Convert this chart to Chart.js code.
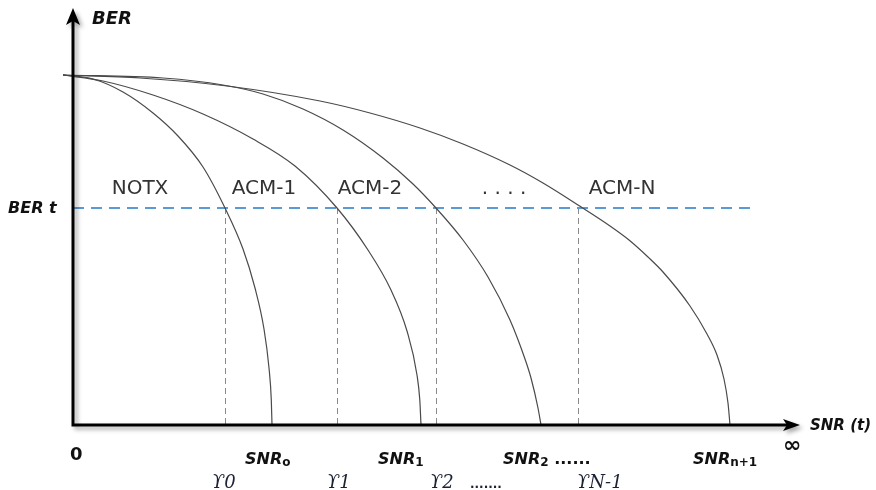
<!DOCTYPE html>
<html>
<head>
<meta charset="utf-8">
<script src="https://cdn.jsdelivr.net/npm/chart.js@4.4.1/dist/chart.umd.min.js"></script>
<style>
  html, body { margin: 0; padding: 0; background: #ffffff; }
  #wrap { width: 876px; height: 490px; position: relative; }
</style>
</head>
<body>
<div id="wrap"><canvas id="berChart" width="876" height="490"></canvas></div>
<script>
// curve points (x = SNR, y = BER, arbitrary units)
const notxX = [-10, 20, 50, 80, 105, 130, 152, 170, 182, 191, 196, 198.3, 199];
const notxY = [350, 346, 333, 312, 289, 258, 217, 176, 137, 96, 57, 25, 0];

const acm1X = [-10, 30, 80, 130, 180, 222, 264, 295, 318, 334, 344, 346.8, 348];
const acm1Y = [350, 344, 330, 311, 286, 259, 217, 175, 135, 94, 50, 25, 0];

const acm2X = [-10, 90, 150, 190, 230, 270, 310, 340, 363, 390, 415, 437, 452, 458, 465, 468];
const acm2Y = [350, 347, 340, 331, 316, 295, 267, 241, 217, 185, 148, 105, 66, 47, 17, 0];

const acmNX = [-10, 67, 154, 247, 297, 347, 390, 437, 470, 505, 537, 556, 575, 590, 617, 634, 644, 651, 655, 657];
const acmNY = [350, 347, 339, 324, 312, 297, 281, 260, 242, 220, 199, 185, 168, 153, 119, 91, 70, 46, 22, 0];

// threshold BER and the SNR where each curve meets it
const berT = 217;
const berTEnd = 679;
const thresholdX = [152, 264, 363, 505];

// region names and where they sit
const regionNames = ['NOTX', 'ACM-1', 'ACM-2', '. . . .', 'ACM-N'];
const regionX = [67, 191, 297, 431, 549];
const regionY = 239;

// labels under the x axis
const snrMain = ['SNR', 'SNR', 'SNR', 'SNR'];
const snrSub = ['o', '1', '2', 'n+1'];
const snrTail = ['', '', ' ......', ''];
const snrTickX = [172, 305, 430, 620];
const gammaLabels = ['\u03D20', '\u03D21', '\u03D22', '\u03D2N-1'];
const gammaTickX = [139, 254, 357, 504];

const xMin = -10, xMax = 724, yMin = 0, yMax = 414;

function pts(xs, ys) {
    return xs.map((v, i) => ({ x: v, y: ys[i] }));
}

const curveStyle = {
    borderColor: '#4a4a4a',
    borderWidth: 1.2,
    pointRadius: 0,
    fill: false,
    cubicInterpolationMode: 'monotone',
    clip: false
};

const decorPlugin = {
    id: 'decor',
    beforeDatasetsDraw(chart) {
        const { ctx, scales: { x, y } } = chart;
        const yT = y.getPixelForValue(berT);
        const y0 = y.getPixelForValue(0);

        ctx.save();
        // vertical threshold lines
        ctx.strokeStyle = '#8a8a8a';
        ctx.lineWidth = 1;
        ctx.setLineDash([6, 4]);
        thresholdX.forEach(v => {
            const px = Math.round(x.getPixelForValue(v)) + 0.5;
            ctx.beginPath();
            ctx.moveTo(px, yT);
            ctx.lineTo(px, y0);
            ctx.stroke();
        });
        // BER t line
        ctx.strokeStyle = '#5b9bd5';
        ctx.lineWidth = 2;
        ctx.setLineDash([11, 7]);
        ctx.beginPath();
        ctx.moveTo(x.getPixelForValue(0), yT);
        ctx.lineTo(x.getPixelForValue(berTEnd), yT);
        ctx.stroke();
        ctx.restore();
    },
    afterDraw(chart) {
        const { ctx, scales: { x, y } } = chart;
        const ox = x.getPixelForValue(0);
        const oy = y.getPixelForValue(0);
        const top = y.getPixelForValue(yMax);
        const right = x.getPixelForValue(xMax);

        ctx.save();
        // axes with soft shadow
        ctx.shadowColor = 'rgba(0,0,0,0.35)';
        ctx.shadowBlur = 4;
        ctx.shadowOffsetX = 3;
        ctx.shadowOffsetY = 3;
        ctx.strokeStyle = '#000';
        ctx.fillStyle = '#000';
        ctx.lineWidth = 3;
        ctx.beginPath();
        ctx.moveTo(ox, top + 10);
        ctx.lineTo(ox, oy);
        ctx.lineTo(right - 10, oy);
        ctx.stroke();
        ctx.beginPath();
        ctx.moveTo(ox, top - 3);
        ctx.lineTo(ox - 7, top + 14);
        ctx.lineTo(ox, top + 10);
        ctx.lineTo(ox + 7, top + 14);
        ctx.closePath();
        ctx.fill();
        ctx.beginPath();
        ctx.moveTo(right + 3, oy);
        ctx.lineTo(right - 14, oy - 6);
        ctx.lineTo(right - 10, oy);
        ctx.lineTo(right - 14, oy + 6);
        ctx.closePath();
        ctx.fill();
        ctx.restore();

        ctx.save();
        ctx.textBaseline = 'alphabetic';
        ctx.fillStyle = '#111';
        // axis titles
        ctx.font = 'italic bold 18px "DejaVu Sans"';
        ctx.fillText('BER', ox + 19, top + 13);
        ctx.font = 'italic bold 16px "DejaVu Sans"';
        ctx.fillText('BER t', 8, y.getPixelForValue(berT) + 5);
        ctx.font = 'italic bold 15px "DejaVu Sans"';
        ctx.fillText('SNR (t)', right + 13, oy + 5);
        ctx.font = 'bold 18px "DejaVu Sans"';
        ctx.fillText('0', ox - 3, oy + 35);
        ctx.font = 'bold 22px "DejaVu Sans"';
        ctx.fillText('\u221E', right - 14, oy + 27);

        // region names
        ctx.fillStyle = '#333';
        ctx.font = '20px "DejaVu Sans"';
        ctx.textAlign = 'center';
        regionNames.forEach((t, i) => {
            ctx.fillText(t, x.getPixelForValue(regionX[i]), y.getPixelForValue(regionY) + 8);
        });

        // SNR labels with subscripts
        ctx.textAlign = 'left';
        ctx.fillStyle = '#111';
        snrMain.forEach((t, i) => {
            let px = x.getPixelForValue(snrTickX[i]);
            const base = oy + 39;
            ctx.font = 'italic bold 16px "DejaVu Sans"';
            ctx.fillText(t, px, base);
            px += ctx.measureText(t).width;
            ctx.font = 'bold 12px "DejaVu Sans"';
            ctx.fillText(snrSub[i], px, base + 2);
            px += ctx.measureText(snrSub[i]).width;
            if (snrTail[i]) {
                ctx.font = 'bold 16px "DejaVu Sans"';
                ctx.fillText(snrTail[i], px, base);
            }
        });

        // gamma labels
        ctx.fillStyle = '#1c2233';
        ctx.font = 'italic 18px "DejaVu Serif"';
        gammaLabels.forEach((t, i) => {
            ctx.fillText(t, x.getPixelForValue(gammaTickX[i]), oy + 63);
        });
        ctx.font = 'bold 12px "DejaVu Sans"';
        ctx.fillText('.......', x.getPixelForValue(gammaTickX[2]) + 40, oy + 63);
        ctx.restore();
    }
};

new Chart(document.getElementById('berChart'), {
    type: 'line',
    data: {
        datasets: [
            { label: 'NOTX', data: pts(notxX, notxY), ...curveStyle },
            { label: 'ACM-1', data: pts(acm1X, acm1Y), ...curveStyle },
            { label: 'ACM-2', data: pts(acm2X, acm2Y), ...curveStyle },
            { label: 'ACM-N', data: pts(acmNX, acmNY), ...curveStyle }
        ]
    },
    options: {
        responsive: false,
        animation: false,
        layout: { padding: { left: 63, right: 79, top: 11, bottom: 65 } },
        plugins: {
            legend: { display: false },
            tooltip: { enabled: false }
        },
        scales: {
            x: { type: 'linear', min: xMin, max: xMax, display: false },
            y: { type: 'linear', min: yMin, max: yMax, display: false }
        }
    },
    plugins: [decorPlugin]
});
</script>
</body>
</html>
